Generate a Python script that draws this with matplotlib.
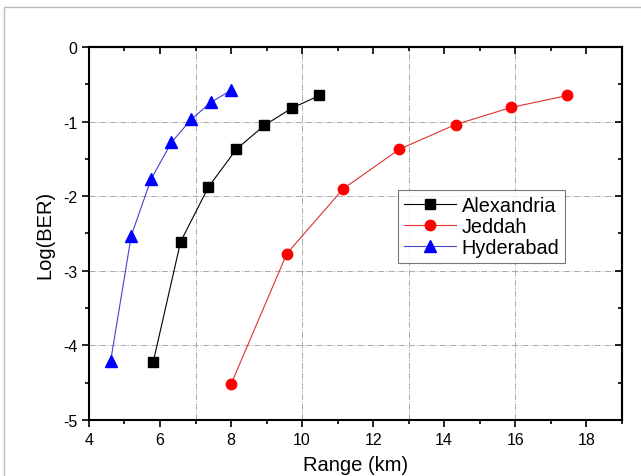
import matplotlib.pyplot as plt
import matplotlib.patches as patches
from matplotlib.ticker import MultipleLocator

plt.rcParams['font.family'] = ['Liberation Sans', 'DejaVu Sans']
plt.rcParams['axes.unicode_minus'] = False

# data
alex_x = [5.81, 6.58, 7.36, 8.15, 8.94, 9.71, 10.49]
alex_y = [-4.22, -2.61, -1.88, -1.37, -1.05, -0.82, -0.65]
jed_x = [8.0, 9.57, 11.16, 12.74, 14.32, 15.89, 17.47]
jed_y = [-4.52, -2.77, -1.90, -1.37, -1.04, -0.81, -0.65]
hyd_x = [4.61, 5.19, 5.75, 6.32, 6.88, 7.44, 8.0]
hyd_y = [-4.21, -2.53, -1.77, -1.28, -0.97, -0.74, -0.58]

grid_x = [7, 10, 13, 16]
grid_y = [-1, -2, -3, -4]

fig = plt.figure(figsize=(6.41, 4.77), dpi=100)
ax = fig.add_axes([0.1388, 0.1174, 0.8312, 0.782])

# thin border of the figure (screenshot edge)
fig.patches.append(patches.Rectangle((4/641, -0.01), 1.0, 1 - 8/477 + 0.01, transform=fig.transFigure,
                                     fill=False, ec='#bbbbbb', lw=1.0))

for gx in grid_x:
    ax.axvline(gx, color='#aaaaaa', ls='-.', lw=0.7, zorder=0)
for gy in grid_y:
    ax.axhline(gy, color='#aaaaaa', ls='-.', lw=0.7, zorder=0)

ax.plot(alex_x, alex_y, color='black', lw=0.8, marker='s', ms=6.5, mfc='black', mec='black', label='Alexandria')
ax.plot(jed_x, jed_y, color='#e03030', lw=0.8, marker='o', ms=7.5, mfc='red', mec='red', label='Jeddah')
ax.plot(hyd_x, hyd_y, color='#4444cc', lw=0.8, marker='^', ms=8, mfc='blue', mec='blue', label='Hyderabad')

ax.set_xlim(4, 19)
ax.set_ylim(-5, 0)
ax.xaxis.set_major_locator(MultipleLocator(2))
ax.xaxis.set_minor_locator(MultipleLocator(1))
ax.yaxis.set_major_locator(MultipleLocator(1))
ax.yaxis.set_minor_locator(MultipleLocator(0.5))
ax.tick_params(which='both', direction='out', labelsize=11.5, width=1.2)
ax.tick_params(which='major', length=5)
ax.tick_params(which='minor', length=3)
for sp in ax.spines.values():
    sp.set_linewidth(1.5)

# mirrored ticks pointing inward on top and right
top = ax.secondary_xaxis('top')
top.xaxis.set_major_locator(MultipleLocator(2))
top.xaxis.set_minor_locator(MultipleLocator(1))
top.tick_params(which='both', direction='in', labeltop=False, width=1.2)
top.tick_params(which='major', length=5)
top.tick_params(which='minor', length=3)
right = ax.secondary_yaxis('right')
right.yaxis.set_major_locator(MultipleLocator(1))
right.yaxis.set_minor_locator(MultipleLocator(0.5))
right.tick_params(which='both', direction='in', labelright=False, width=1.2)
right.tick_params(which='major', length=5)
right.tick_params(which='minor', length=3)
for s in (top, right):
    for sp in s.spines.values():
        sp.set_linewidth(1.5)

ax.set_xlabel('Range (km)', fontsize=14.5, labelpad=6)
ax.set_ylabel('Log(BER)', fontsize=14.5, labelpad=6)

leg = ax.legend(loc='upper left', bbox_to_anchor=(0.58, 0.617), fontsize=14.3, frameon=True, fancybox=False,
                edgecolor='#555555', borderpad=0.3, handlelength=2.6, labelspacing=0.1, handletextpad=0.3,
                borderaxespad=0)
leg.get_frame().set_linewidth(0.8)

fig.savefig('out.png', dpi=100)
